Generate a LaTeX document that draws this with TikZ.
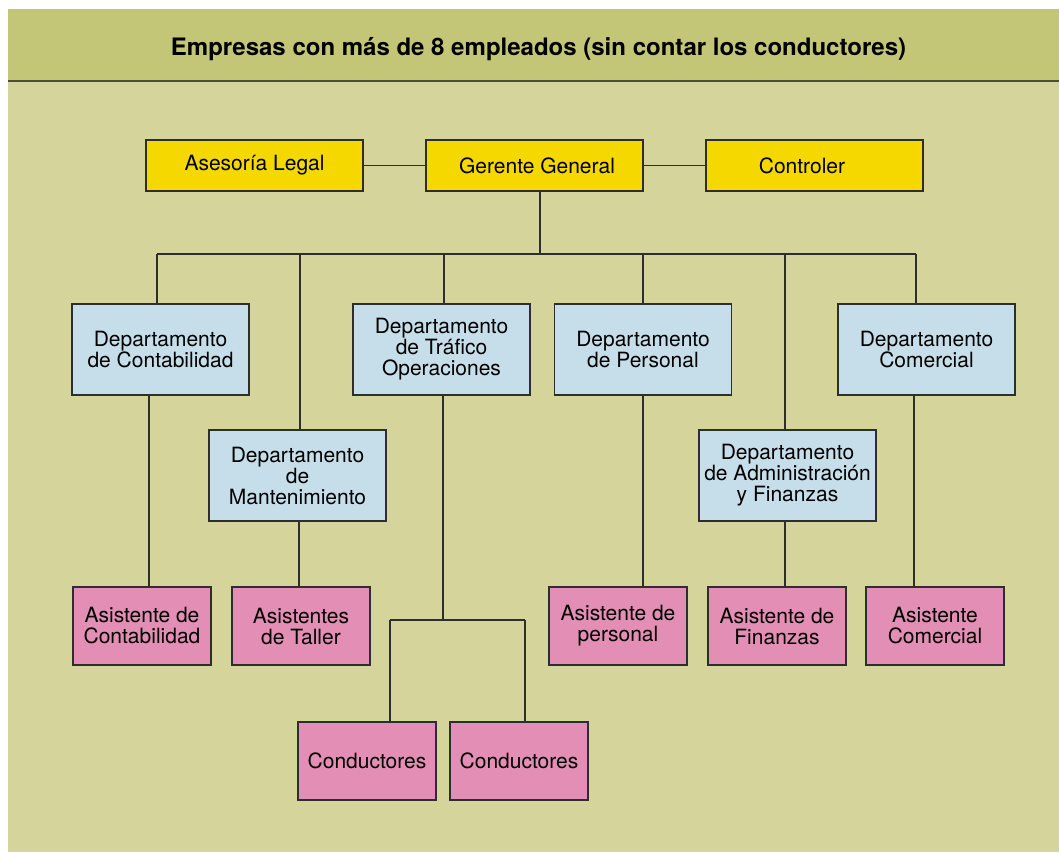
\documentclass[tikz,border=0pt]{standalone}
\usepackage{fontspec}
\setmainfont{TeX Gyre Heros}
\usepackage{tikz}
\usetikzlibrary{
  chains,
  scopes
}
\definecolor{bandcolor}{HTML}{C3C577}
\definecolor{groundcolor}{HTML}{D5D59B}
\definecolor{mgrcolor}{HTML}{F5D800}
\definecolor{deptcolor}{HTML}{C6DEE9}
\definecolor{staffcolor}{HTML}{E38FB5}
\definecolor{linecolor}{HTML}{2E2E2E}

\begin{document}
\begin{tikzpicture}[
      x=1pt,y=-1pt,
      manager/.style={
         rectangle,
         minimum width=217pt,
         minimum height=51pt,
         inner sep=0pt,
         line width=1.2pt,
         draw=linecolor,
         fill=mgrcolor,
         font=\fontsize{21}{21}\selectfont
      },
      department/.style={
         rectangle,
         minimum width=177pt,
         minimum height=91pt,
         inner sep=0pt,
         align=center,
         line width=1.2pt,
         draw=linecolor,
         fill=deptcolor,
         font=\fontsize{21}{21}\selectfont
      },
      staff/.style={
         rectangle,
         minimum width=138pt,
         minimum height=78pt,
         inner sep=0pt,
         align=center,
         line width=1.2pt,
         draw=linecolor,
         fill=staffcolor,
         font=\fontsize{21}{21}\selectfont
      },
      point/.style={coordinate},
      line width=1.6pt,draw=linecolor,
      every join/.style={line width=1.6pt,draw=linecolor},
    ]
    \useasboundingbox (0,0) rectangle (1059,852);
    \fill[groundcolor] (8,9) rectangle (1059,852);
    \fill[bandcolor] (8,9) rectangle (1059,81);
    \draw[line width=1.8pt,draw=black!60!bandcolor] (8,81) -- (1059,81);
    \node (n00) at (538.5,49) {\fontsize{24}{24}\selectfont\bfseries Empresas con más de 8 empleados (sin contar los conductores)};
    % row 1
    \node (n11) [manager] at (254.5,165.5) {Asesoría Legal};
    \node (n12) [manager] at (534.5,165.5) {\hspace*{5pt}Gerente General};
    \node (n13) [manager] at (814.5,165.5) {\hspace*{-25pt}Controler};
    % rows 2 and 3
    \node (n21) [department] at (160.5,349.5) {Departamento\\de Contabilidad};
    \node (n22) [department] at (297.5,475.5) {Departamento\\de\\Mantenimiento};
    \node (n23) [department] at (441.5,349.5) {Departamento\\de Tráfico\\Operaciones};
    \node (n24) [department] at (643,349.5) {Departamento\\de Personal};
    \node (n25) [department] at (787.5,475.5) {Departamento\\de Administración\\y Finanzas};
    \node (n26) [department] at (926.5,349.5) {Departamento\\Comercial};
    % row 4
    \node (n31) [staff] at (142,626) {Asistente de\\Contabilidad};
    \node (n32) [staff] at (301,626) {Asistentes\\de Taller};
    \node (n34) [staff] at (618,626) {Asistente de\\personal};
    \node (n35) [staff] at (777,626) {Asistente de\\Finanzas};
    \node (n36) [staff] at (935,626) {Asistente\\Comercial};
    % row 5
    \node (n41) [staff] at (367,761) {Conductores};
    \node (n42) [staff] at (519,761) {Conductores};
    % bus points
    \node (b0) [point] at (540,254) {};
    \node (b1) [point] at (157,254) {};
    \node (b2) [point] at (300,254) {};
    \node (b3) [point] at (444,254) {};
    \node (b4) [point] at (643,254) {};
    \node (b5) [point] at (785,254) {};
    \node (b6) [point] at (916,254) {};
    \node (t0) [point] at (443,620) {};
    \node (t1) [point] at (390,620) {};
    \node (t2) [point] at (525,620) {};
  { [start chain]
       \chainin (n11);
       \chainin (n12)    [join];
       \chainin (n13)    [join];
  }
  { [start chain]
       \chainin (b1);
       \chainin (b6)     [join];
  }
  { [start chain]
       \chainin (t1);
       \chainin (t2)     [join];
  }
  \draw (n12.south -| b0) -- (b0);
  \draw (b1) -- (b1 |- n21.north);
  \draw (b2) -- (b2 |- n22.north);
  \draw (b3) -- (b3 |- n23.north);
  \draw (b4) -- (b4 |- n24.north);
  \draw (b5) -- (b5 |- n25.north);
  \draw (b6) -- (b6 |- n26.north);
  \draw ([xshift=-11.5pt]n21.south) -- ([xshift=-11.5pt]n21.south |- n31.north);
  \draw ([xshift=1.5pt]n22.south) -- ([xshift=1.5pt]n22.south |- n32.north);
  \draw (n23.south -| t0) -- (t0);
  \draw (n24.south) -- (n24.south |- n34.north);
  \draw ([xshift=-2.5pt]n25.south) -- ([xshift=-2.5pt]n25.south |- n35.north);
  \draw ([xshift=-12.5pt]n26.south) -- ([xshift=-12.5pt]n26.south |- n36.north);
  \draw (t1) -- (t1 |- n41.north);
  \draw (t2) -- (t2 |- n42.north);
\end{tikzpicture}
\end{document}
